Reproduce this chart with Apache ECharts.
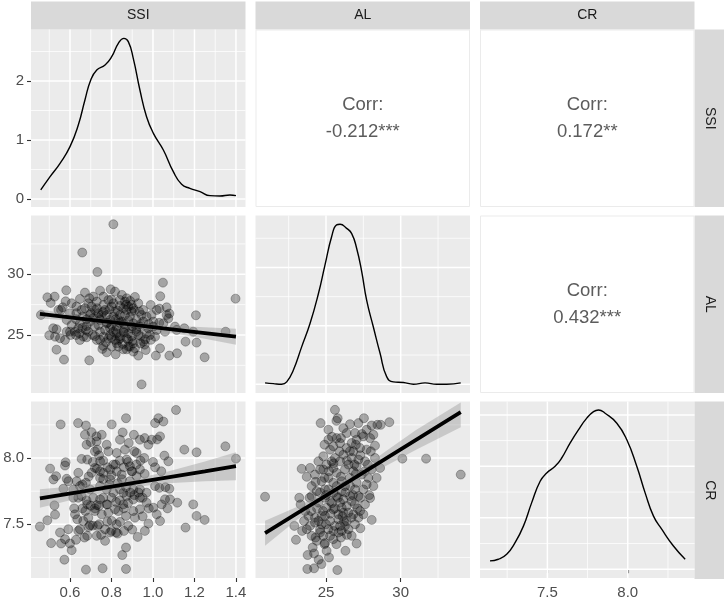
<!DOCTYPE html>
<html>
<head>
<meta charset="utf-8">
<script src="https://cdn.jsdelivr.net/npm/echarts@6/dist/echarts.min.js"></script>
<style>
  html, body { margin: 0; padding: 0; background: #fff; }
  #chart { width: 726px; height: 600px; }
</style>
</head>
<body>
<div id="chart"></div>
<script>
// variable names and correlation labels
var varNames = ['SSI', 'AL', 'CR'];
var corrLabels = ['-0.212***', '0.172**', '0.432***'];

// tick values
var ssiTicks = [0.6, 0.8, 1.0, 1.2, 1.4];
var ssiMinor = [0.5, 0.7, 0.9, 1.1, 1.3];
var alTicks = [25, 30];
var alMinor = [22.5, 27.5, 32.5];
var crTicks = [7.5, 8.0];
var crMinor = [7.25, 7.75, 8.25];
var ssiDensTicks = [0, 1, 2];
var ssiDensMinor = [0.5, 1.5, 2.5];
var alDensTicks = [0, 0.1, 0.2];
var alDensMinor = [0.05, 0.15, 0.25];
var crDensTicks = [0, 0.5, 1.0, 1.5];
var crDensMinor = [0.25, 0.75, 1.25];

// density curves (diagonal)
var ssiDensX = [0.459, 0.504, 0.552, 0.600, 0.640, 0.672, 0.700, 0.729, 0.769, 0.801, 0.833, 0.860, 0.881, 0.905, 0.937, 0.969, 1.002, 1.050, 1.098, 1.138, 1.178, 1.227, 1.275, 1.323, 1.371, 1.400];
var ssiDensY = [0.153, 0.379, 0.605, 0.887, 1.254, 1.678, 2.017, 2.186, 2.271, 2.412, 2.638, 2.723, 2.667, 2.384, 1.847, 1.395, 1.113, 0.831, 0.463, 0.249, 0.181, 0.124, 0.056, 0.051, 0.068, 0.056];
var alDensX = [20.92, 21.47, 22.03, 22.37, 22.81, 23.37, 23.93, 24.49, 24.93, 25.38, 25.71, 25.94, 26.38, 26.72, 27.05, 27.39, 27.72, 28.17, 28.62, 29.06, 29.51, 30.18, 30.85, 31.63, 32.41, 33.08, 34.02];
var alDensY = [0.0023, 0.001, 0.0, 0.004, 0.024, 0.064, 0.104, 0.155, 0.204, 0.253, 0.273, 0.274, 0.267, 0.258, 0.233, 0.193, 0.144, 0.098, 0.053, 0.013, 0.004, 0.003, 0.0, 0.0023, 0.0, 0.0, 0.0023];
var crDensX = [7.143, 7.195, 7.247, 7.299, 7.351, 7.402, 7.455, 7.496, 7.548, 7.589, 7.641, 7.693, 7.745, 7.787, 7.818, 7.859, 7.932, 7.994, 8.056, 8.108, 8.160, 8.212, 8.284, 8.357];
var crDensY = [0.081, 0.097, 0.145, 0.258, 0.419, 0.645, 0.855, 0.935, 1.0, 1.081, 1.226, 1.355, 1.468, 1.532, 1.548, 1.516, 1.419, 1.258, 1.0, 0.742, 0.516, 0.387, 0.226, 0.097];

// scatter points [x, y]
var ssiAl = [[0.809,34.12],[0.659,31.79],[0.732,30.19],[1.048,29.31],[1.398,27.99],[1.035,28.19],[0.582,28.68],[0.491,28.10],[0.526,28.16],[0.507,27.64],[0.460,26.65],[0.579,27.77],[0.565,27.28],[0.557,27.06],[0.648,27.97],[0.672,28.49],[0.693,28.02],[0.745,28.65],[0.796,28.76],[0.817,28.57],[0.873,28.02],[0.913,28.13],[0.989,27.47],[1.066,27.28],[1.079,26.76],[1.031,27.17],[1.207,26.62],[0.500,24.97],[0.535,25.47],[0.528,24.86],[0.552,24.73],[0.576,24.59],[0.535,23.79],[0.571,22.97],[0.603,25.00],[0.624,25.27],[0.645,25.14],[0.680,24.81],[0.693,22.91],[0.773,24.40],[0.756,23.85],[0.777,23.57],[0.820,23.41],[0.873,23.82],[0.929,23.30],[0.945,20.93],[0.965,23.76],[1.014,23.30],[1.034,23.90],[1.079,23.30],[1.116,23.49],[1.157,24.45],[1.210,24.37],[1.249,23.16],[1.151,25.55],[1.194,25.27],[1.350,25.27],[1.106,25.69],[1.058,25.27],[1.010,24.86],[0.963,24.64],[0.905,24.31],[0.881,24.04],[0.841,24.73],[0.825,25.14],[0.793,25.00],[0.745,25.27],[0.720,25.69],[0.680,25.74],[0.648,25.96],[0.629,26.29],[0.661,26.51],[0.696,26.65],[0.737,26.79],[0.769,27.06],[0.801,27.34],[0.841,27.39],[0.865,27.75],[0.897,27.47],[0.934,26.92],[0.969,26.51],[1.002,26.10],[1.050,25.96],[1.074,26.37],[0.937,25.69],[0.905,25.96],[0.865,25.55],[0.825,25.69],[0.777,25.96],[0.745,26.24],[0.711,26.37],[0.672,27.20],[0.631,27.34],[0.600,26.79],[0.584,26.24],[0.608,25.82],[0.677,25.41],[0.709,25.00],[0.817,24.59],[0.854,24.26],[0.897,24.86],[0.921,25.27],[0.953,26.10],[0.993,26.65],[1.018,27.06],[0.873,27.06],[0.841,26.65],[0.809,26.51],[0.761,27.47],[0.729,27.75],[0.704,27.34],[0.889,26.51],[0.921,26.24],[0.881,25.14],[0.793,25.55],[0.761,24.86],[0.729,24.59],[0.849,26.10],[0.817,26.92],[0.785,27.88],[0.857,27.20],[0.905,27.20],[0.945,26.65],[0.977,25.55],[0.696,26.10],[0.656,27.06],[0.640,25.55],[0.600,25.27],[1.066,26.65],[0.889,24.04],[0.913,23.90],[0.833,24.04],[0.801,24.04],[0.793,26.24],[0.833,26.24],[0.865,26.65],[0.897,26.92],[0.841,27.88],[0.881,27.34],[0.857,25.27],[0.897,25.55],[0.809,25.27],[0.769,25.41],[0.737,25.82],[0.688,25.27],[0.664,24.86],[0.753,26.65],[0.777,26.65],[0.720,27.06],[0.688,27.61],[0.712,28.16],[0.761,28.16],[0.809,27.61],[0.929,27.61],[0.953,27.06],[0.929,25.00],[0.953,24.45],[0.985,25.00],[1.018,25.41],[0.873,24.73],[0.833,24.59],[0.785,24.73],[0.745,24.59],[0.648,24.59],[0.629,25.00],[0.631,26.79],[0.608,27.61],[0.544,27.06],[0.519,25.55],[0.584,25.27],[0.969,25.14],[1.002,25.69],[1.114,25.41],[0.857,23.82],[0.905,23.63],[0.825,24.31],
  [0.78,26.0],[0.80,25.8],[0.82,26.3],[0.84,26.0],[0.86,25.9],[0.88,26.2],[0.90,25.7],[0.92,25.5],[0.94,25.9],[0.86,25.2],[0.84,24.9],[0.82,25.4],[0.88,24.6],[0.90,24.5],[0.94,24.9],[0.96,24.2],[0.76,26.9],[0.79,27.1],[0.83,27.0],[0.87,27.5],[0.91,27.0],[0.73,27.2],[0.70,26.8],[0.68,26.3],[0.74,26.4],[0.80,27.9],[0.85,28.3],[0.89,27.8],[0.66,25.6],[0.72,24.9],[0.76,24.1],[0.80,24.8],[0.98,25.9],[1.03,26.0],[0.94,24.3],[0.99,24.6]];

var ssiCr = [[1.111,8.362],[0.555,8.253],[0.639,8.263],[0.677,8.245],[0.704,8.195],[0.672,8.175],[0.801,8.253],[0.870,8.300],[0.854,8.193],[0.908,8.175],[0.883,8.113],[1.026,8.300],[1.050,8.275],[1.010,8.263],[1.034,8.163],[0.994,8.138],[0.978,8.100],[1.151,8.063],[1.210,8.043],[1.349,8.088],[1.400,7.995],[1.055,8.018],[1.074,7.975],[1.010,7.930],[0.958,8.000],[0.921,8.038],[0.504,7.920],[0.533,7.863],[0.579,7.968],[0.576,7.943],[0.584,7.843],[0.592,7.825],[0.568,7.768],[0.520,7.838],[0.640,7.888],[0.656,7.993],[0.683,7.988],[0.680,8.100],[0.728,8.125],[0.732,8.063],[0.777,8.100],[0.825,8.038],[0.809,7.950],[0.873,7.988],[0.889,7.938],[0.849,7.875],[0.793,7.838],[0.761,7.888],[0.720,7.925],[0.745,7.788],[0.696,7.763],[0.648,7.788],[0.616,7.700],[0.656,7.713],[0.683,7.650],[0.729,7.645],[0.777,7.650],[0.822,7.668],[0.857,7.650],[0.905,7.763],[0.937,7.763],[0.969,7.738],[1.010,7.788],[1.031,7.775],[1.079,7.768],[1.058,7.688],[1.082,7.688],[1.042,7.650],[1.002,7.625],[1.117,7.663],[1.194,7.650],[1.210,7.563],[1.249,7.533],[1.157,7.475],[1.034,7.525],[1.018,7.575],[0.978,7.505],[0.961,7.450],[0.926,7.405],[0.905,7.600],[0.870,7.563],[0.841,7.518],[0.801,7.525],[0.822,7.438],[0.769,7.463],[0.732,7.488],[0.696,7.493],[0.683,7.413],[0.720,7.600],[0.674,7.600],[0.635,7.538],[0.624,7.575],[0.592,7.463],[0.552,7.438],[0.576,7.388],[0.557,7.355],[0.509,7.358],[0.455,7.483],[0.491,7.530],[0.528,7.573],[0.525,7.643],[0.600,7.355],[0.608,7.305],[0.629,7.383],[0.573,7.233],[0.677,7.158],[0.757,7.168],[0.870,7.163],[0.852,7.268],[0.870,7.325],[0.769,7.375],[0.793,7.438],[0.825,7.500],[0.881,7.488],[0.913,7.550],[0.937,7.613],[0.753,7.575],[0.785,7.588],[0.833,7.600],[0.873,7.713],[0.905,7.688],[0.937,7.700],[0.969,7.663],[0.841,7.763],[0.809,7.738],[0.777,7.763],[0.889,7.825],[0.921,7.863],[0.937,7.913],[0.825,7.900],[0.793,7.913],[0.745,7.975],[0.704,7.888],[0.677,7.813],[0.632,7.825],[0.616,7.763],[0.712,7.700],[0.745,7.688],[0.664,7.525],[0.648,7.463],[0.729,7.413],[0.688,7.550],[0.817,7.613],[0.857,7.738],[0.897,7.900],[0.865,8.063],[0.785,8.050],[0.753,8.175],[0.728,8.163],[0.841,8.138],[0.937,8.138],[0.745,7.900],[0.745,7.850],
  [0.70,8.12],[0.72,8.05],[0.74,8.02],[0.76,7.98],[0.78,7.93],[0.80,7.87],[0.82,7.95],[0.84,7.98],[0.86,7.93],[0.88,7.97],[0.90,7.90],[0.92,7.95],[0.94,7.98],[0.96,7.88],[0.85,7.84],[0.87,7.78],[0.89,7.74],[0.91,7.72],[0.93,7.74],[0.95,7.70],[0.88,7.66],[0.86,7.62],[0.84,7.68],[0.80,7.70],[0.78,7.65],[0.76,7.70],[0.74,7.64],[0.72,7.62],[0.70,7.64],[0.68,7.68],[0.66,7.62],[0.69,7.48],[0.71,7.49],[0.74,7.50],[0.78,7.52],[0.80,7.45],[0.83,7.43],[0.86,7.45],[0.90,7.46],[0.75,7.42],[0.67,7.40],[0.64,7.45],[0.62,7.62],[0.64,7.70],[0.66,7.80],[0.69,7.86],[0.71,7.97],[0.73,7.92],[0.76,7.84],[0.79,7.80],[0.83,7.81],[0.91,8.05],[0.96,8.15],[1.02,8.14],[1.00,7.97],[1.04,7.90],[1.06,7.78],[0.98,7.62],[1.07,7.62],[0.95,7.56]];

var alCr = [[25.60,8.363],[25.78,8.300],[24.64,8.263],[26.61,8.255],[27.17,8.263],[27.54,8.300],[28.06,8.245],[28.44,8.250],[28.66,8.250],[29.24,8.270],[30.11,7.995],[31.70,7.995],[34.02,7.875],[20.92,7.708],[23.37,7.918],[23.93,7.925],[23.71,7.858],[23.21,7.700],[23.30,7.650],[22.88,7.488],[22.99,7.383],[23.53,7.525],[23.82,7.563],[24.04,7.413],[24.11,7.325],[24.38,7.375],[24.93,7.358],[25.04,7.300],[24.51,7.233],[23.77,7.268],[23.75,7.163],[24.20,7.168],[25.76,7.155],[27.05,7.355],[28.06,7.533],[27.95,7.698],[28.17,7.788],[28.62,7.925],[28.28,8.000],[28.28,8.093],[27.95,8.150],[27.50,8.163],[26.94,8.188],[26.38,8.188],[25.71,8.150],[25.16,8.138],[25.94,8.113],[26.72,8.113],[27.28,8.075],[27.72,8.063],[25.27,8.063],[24.82,8.013],[24.49,7.975],[24.60,7.913],[24.26,7.875],[25.04,7.950],[25.60,8.000],[26.16,8.025],[26.72,8.000],[27.17,7.988],[27.61,7.975],[28.06,7.913],[27.83,7.850],[27.39,7.875],[26.83,7.900],[26.27,7.913],[25.71,7.888],[25.16,7.850],[24.71,7.825],[24.04,7.788],[24.38,7.750],[24.93,7.763],[25.49,7.813],[26.05,7.825],[26.61,7.788],[27.05,7.813],[27.50,7.763],[27.17,7.713],[26.61,7.713],[26.05,7.750],[25.49,7.738],[24.93,7.700],[24.49,7.663],[24.04,7.713],[25.94,7.663],[26.38,7.638],[26.94,7.650],[27.28,7.600],[26.83,7.575],[26.16,7.588],[25.49,7.613],[25.04,7.625],[24.71,7.563],[24.26,7.550],[25.27,7.525],[25.83,7.538],[26.38,7.525],[26.94,7.500],[27.17,7.550],[26.50,7.463],[26.05,7.450],[25.60,7.488],[25.16,7.463],[24.71,7.500],[24.60,7.438],[25.27,7.413],[25.83,7.438],[26.27,7.488],[25.49,7.388],[24.82,7.413],[23.93,7.488],[23.71,7.463],[25.16,8.213],[26.16,8.225],[27.05,8.138],[26.38,8.075],[25.49,8.088],[27.72,8.213],[28.17,8.175],[26.83,8.050],[25.94,7.975],[26.50,7.950],[25.49,7.925],[28.39,7.850],[27.05,7.938],[26.94,7.763],[26.27,7.788],[25.71,7.788],[25.16,7.763],[25.71,7.713],[25.27,7.675],[26.16,7.688],[26.72,7.675],[26.05,7.625],[26.50,7.588],[25.83,7.575],[24.93,7.563],[27.61,7.650],[27.50,7.575],[27.72,7.800],[24.82,7.913],[25.38,7.975],[24.26,7.513],[24.49,7.525],[25.94,7.488],[26.72,7.413],
  [25.9,8.05],[26.4,7.98],[26.9,7.95],[27.3,8.02],[25.5,7.96],[25.2,7.90],[26.0,7.86],[26.6,7.85],[27.0,7.88],[27.6,7.90],[26.3,7.74],[26.8,7.72],[25.8,7.70],[25.4,7.66],[25.0,7.72],[24.6,7.74],[24.3,7.82],[24.9,7.85],[25.6,7.62],[26.1,7.56],[26.7,7.55],[27.1,7.62],[25.3,7.58],[24.8,7.60],[24.4,7.62],[24.0,7.60],[25.0,7.50],[25.5,7.45],[26.0,7.40],[26.4,7.42],[24.6,7.46],[24.3,7.40],[24.9,7.35],[25.7,7.35],[26.2,7.52],[27.3,7.70],[27.8,7.95],[27.0,8.10],[26.0,8.15],[25.4,8.16],[24.9,8.10],[26.6,8.05],[27.4,8.18],[25.7,8.28],[28.0,8.05],[27.9,7.72],[23.6,7.60],[23.9,7.70],[23.4,7.45],[24.2,7.28],[26.3,7.30],[25.2,7.25],[24.7,7.20],[27.3,7.47]];

// fitted lines and confidence bands
var ssiAlFitX = [0.455, 0.65, 0.85, 1.05, 1.25, 1.40];
var ssiAlFit = [26.73, 26.34, 25.95, 25.55, 25.16, 24.86];
var ssiAlLow = [26.35, 26.12, 25.79, 25.29, 24.68, 24.20];
var ssiAlHigh = [27.11, 26.56, 26.11, 25.81, 25.64, 25.52];

var ssiCrFitX = [0.455, 0.65, 0.85, 1.05, 1.25, 1.40];
var ssiCrFit = [7.695, 7.745, 7.797, 7.848, 7.899, 7.938];
var ssiCrLow = [7.625, 7.700, 7.767, 7.808, 7.824, 7.833];
var ssiCrHigh = [7.765, 7.790, 7.827, 7.888, 7.974, 8.043];

var alCrFitX = [20.92, 23, 25, 27, 29, 31, 34.02];
var alCrFit = [7.433, 7.578, 7.717, 7.856, 7.996, 8.135, 8.345];
var alCrLow = [7.339, 7.528, 7.692, 7.826, 7.940, 8.060, 8.232];
var alCrHigh = [7.527, 7.628, 7.742, 7.886, 8.050, 8.210, 8.418];

// panel layout
var panelLeft = [31, 255.5, 480];
var panelTop = [29.5, 215.5, 401.5];
var panelW = 214.5, panelH = 177.5;
var FONT = '"Liberation Sans", Arial, sans-serif';

var ssiRange = [0.412, 1.446];
var alRangeX = [20.28, 34.64];
var alRangeY = [20.22, 34.84];
var crRangeX = [7.081, 8.415];
var crRangeY = [7.095, 8.426];

// grid index -> [row, col]
var cells = [[0, 0], [1, 0], [1, 1], [2, 0], [2, 1], [2, 2]];

var grids = cells.map(function (rc) {
    return {
        left: panelLeft[rc[1]], top: panelTop[rc[0]],
        width: panelW, height: panelH,
        show: true, backgroundColor: '#ebebeb', borderWidth: 0, z: 0
    };
});

function fmt1(v) { return v.toFixed(1); }
function fmt0(v) { return String(Math.round(v)); }

function axis(gi, range, ticks, showLabel, formatter) {
    return {
        type: 'value', gridIndex: gi, min: range[0], max: range[1],
        axisLine: { show: false },
        splitLine: { show: false },
        axisTick: {
            show: showLabel, customValues: ticks, length: 4,
            lineStyle: { color: '#333333', width: 1.1 }
        },
        axisLabel: {
            show: showLabel, customValues: ticks, formatter: formatter,
            color: '#4d4d4d', fontSize: 15, fontFamily: FONT, margin: 7
        }
    };
}

var xAxes = [
    axis(0, ssiRange, ssiTicks, false, fmt1),
    axis(1, ssiRange, ssiTicks, false, fmt1),
    axis(2, alRangeX, alTicks, false, fmt0),
    axis(3, ssiRange, ssiTicks, true, fmt1),
    axis(4, alRangeX, alTicks, true, fmt0),
    axis(5, crRangeX, crTicks, true, fmt1)
];
var yAxes = [
    axis(0, [-0.136, 2.873], ssiDensTicks, true, fmt0),
    axis(1, alRangeY, alTicks, true, fmt0),
    axis(2, [-0.015, 0.289], alDensTicks, false, fmt1),
    axis(3, crRangeY, crTicks, true, fmt1),
    axis(4, crRangeY, crTicks, false, fmt1),
    axis(5, [-0.085, 1.63], crDensTicks, false, fmt1)
];

// white grid lines drawn through each panel's scales
function gridLines(gi, xMaj, xMin, yMaj, yMin) {
    var x0 = xAxes[gi].min, y0 = yAxes[gi].min;
    var d = [];
    xMaj.forEach(function (v) { d.push([v, y0, 0]); });
    xMin.forEach(function (v) { d.push([v, y0, 1]); });
    yMaj.forEach(function (v) { d.push([x0, v, 2]); });
    yMin.forEach(function (v) { d.push([x0, v, 3]); });
    return {
        type: 'custom', xAxisIndex: gi, yAxisIndex: gi, z: 2, silent: true,
        dimensions: ['x', 'y', 'kind'],
        encode: { x: 0, y: 1 },
        data: d,
        renderItem: function (params, api) {
            var kind = api.value(2);
            var cs = params.coordSys;
            var p = api.coord([api.value(0), api.value(1)]);
            var w = (kind % 2 === 0) ? 1.5 : 0.75;
            var shape = kind < 2
                ? { x1: p[0], y1: cs.y, x2: p[0], y2: cs.y + cs.height }
                : { x1: cs.x, y1: p[1], x2: cs.x + cs.width, y2: p[1] };
            return { type: 'line', shape: shape, style: { stroke: '#ffffff', fill: null, lineWidth: w } };
        }
    };
}

function density(gi, xs, ys) {
    return {
        type: 'line', xAxisIndex: gi, yAxisIndex: gi, z: 5,
        data: xs.map(function (x, i) { return [x, ys[i]]; }),
        smooth: 0.5, symbol: 'none', silent: true,
        lineStyle: { color: '#000000', width: 1.4 }
    };
}

function points(gi, pts) {
    return {
        type: 'scatter', xAxisIndex: gi, yAxisIndex: gi, z: 3,
        data: pts, symbolSize: 9, silent: true,
        itemStyle: { color: 'rgba(0,0,0,0.3)', borderColor: 'rgba(0,0,0,0.3)', borderWidth: 0.9, opacity: 1 }
    };
}

function band(gi, xs, lo, hi) {
    return {
        type: 'custom', xAxisIndex: gi, yAxisIndex: gi, z: 4, silent: true,
        data: xs.map(function (x, i) { return [x, lo[i], hi[i]]; }),
        renderItem: function (params, api) {
            if (params.dataIndex !== 0) return null;
            var pts = [];
            for (var i = 0; i < xs.length; i++) pts.push(api.coord([xs[i], hi[i]]));
            for (var j = xs.length - 1; j >= 0; j--) pts.push(api.coord([xs[j], lo[j]]));
            return { type: 'polygon', shape: { points: pts }, style: { fill: 'rgba(153,153,153,0.42)' } };
        }
    };
}

function fitLine(gi, xs, ys) {
    return {
        type: 'line', xAxisIndex: gi, yAxisIndex: gi, z: 5,
        data: xs.map(function (x, i) { return [x, ys[i]]; }),
        symbol: 'none', silent: true,
        lineStyle: { color: '#000000', width: 3.8 }
    };
}

var series = [
    gridLines(0, ssiTicks, ssiMinor, ssiDensTicks, ssiDensMinor),
    gridLines(1, ssiTicks, ssiMinor, alTicks, alMinor),
    gridLines(2, alTicks, alMinor, alDensTicks, alDensMinor),
    gridLines(3, ssiTicks, ssiMinor, crTicks, crMinor),
    gridLines(4, alTicks, alMinor, crTicks, crMinor),
    gridLines(5, crTicks, crMinor, crDensTicks, crDensMinor),
    density(0, ssiDensX, ssiDensY),
    density(2, alDensX, alDensY),
    density(5, crDensX, crDensY),
    points(1, ssiAl),
    band(1, ssiAlFitX, ssiAlLow, ssiAlHigh),
    fitLine(1, ssiAlFitX, ssiAlFit),
    points(3, ssiCr),
    band(3, ssiCrFitX, ssiCrLow, ssiCrHigh),
    fitLine(3, ssiCrFitX, ssiCrFit),
    points(4, alCr),
    band(4, alCrFitX, alCrLow, alCrHigh),
    fitLine(4, alCrFitX, alCrFit)
];

// strips and upper-triangle correlation panels
var graphics = [];
varNames.forEach(function (name, c) {
    graphics.push({
        type: 'rect', shape: { x: panelLeft[c], y: 1.5, width: panelW, height: 28 },
        style: { fill: '#d9d9d9' }
    });
    graphics.push({
        type: 'text', x: panelLeft[c] + panelW / 2, y: 15.5,
        style: { text: name, textAlign: 'center', textVerticalAlign: 'middle', fontSize: 14, fontFamily: FONT, fill: '#1a1a1a' }
    });
});
varNames.forEach(function (name, r) {
    graphics.push({
        type: 'rect', shape: { x: 694.5, y: panelTop[r], width: 29.5, height: panelH },
        style: { fill: '#d9d9d9' }
    });
    graphics.push({
        type: 'text', x: 709.5, y: panelTop[r] + panelH / 2, rotation: -Math.PI / 2,
        style: { text: name, textAlign: 'center', textVerticalAlign: 'middle', fontSize: 14, fontFamily: FONT, fill: '#1a1a1a' }
    });
});
var upperCells = [[0, 1], [0, 2], [1, 2]];
upperCells.forEach(function (rc, k) {
    var x = panelLeft[rc[1]], y = panelTop[rc[0]];
    graphics.push({
        type: 'rect', shape: { x: x + 0.5, y: y + 0.5, width: panelW - 1, height: panelH - 1 },
        style: { fill: '#ffffff', stroke: '#ebebeb', lineWidth: 1 }
    });
    graphics.push({
        type: 'text', x: x + panelW / 2, y: y + panelH / 2,
        style: {
            text: 'Corr:\n' + corrLabels[k], textAlign: 'center', textVerticalAlign: 'middle',
            fontSize: 18.5, lineHeight: 27, fontFamily: FONT, fill: '#5c5c5c'
        }
    });
});

var myChart = echarts.init(document.getElementById('chart'));
myChart.setOption({
    backgroundColor: '#ffffff',
    animation: false,
    textStyle: { fontFamily: FONT },
    grid: grids,
    xAxis: xAxes,
    yAxis: yAxes,
    series: series,
    graphic: graphics
});
</script>
</body>
</html>
